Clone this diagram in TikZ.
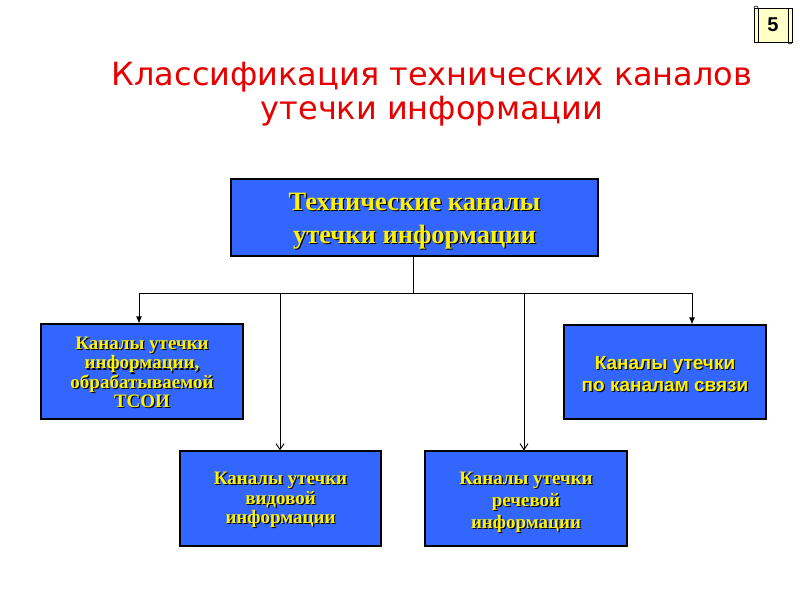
\documentclass[tikz,border=0pt]{standalone}
\usepackage{fontspec}
\setmainfont{Liberation Serif}
\newfontfamily\arialf{Liberation Sans}
\newfontfamily\dejavu{DejaVu Sans}
\usetikzlibrary{arrows.meta}
\definecolor{boxblue}{RGB}{51,102,255}
\definecolor{titlered}{RGB}{230,0,0}
\definecolor{scrollfill}{RGB}{255,255,200}
\newcommand\sh[1]{\leavevmode\rlap{\kern1.2pt\raisebox{-1.2pt}{\color{black}#1}}#1}
\newcommand\lift[1]{\rule{0pt}{#1}}
\tikzset{
  bluebox/.style={draw=black, line width=1.1pt, fill=boxblue, text=yellow, align=center, inner sep=0pt},
  conn/.style={draw=black, line width=0.9pt},
  filledarrow/.style={conn, -{Latex[length=7pt,width=6pt]}},
  openarrow/.style={conn, -{Straight Barb[length=6pt,width=8pt]}},
}
\begin{document}
\begin{tikzpicture}[x=1pt,y=-1pt]
\useasboundingbox (0,0) rectangle (800,600);
\fill[white] (0,0) rectangle (800,600);

% title
\node[text=titlered, align=center, font=\dejavu\fontsize{32}{33.5}\selectfont] (title) at (432,94)
  {Классификация технических каналов\\утечки информации};

% page number scroll
\draw[line width=0.8pt, fill=scrollfill] (754,8) rectangle (792,42);
\draw[line width=0.6pt] (758,8) -- (758,42) (788,8) -- (788,42);
\draw[line width=0.6pt] (754,8) arc (180:0:2pt) (788,42) arc (180:360:2pt);
\node[font=\arialf\bfseries\fontsize{20}{22}\selectfont] (num) at (773,25) {5};

% boxes
\node[bluebox, minimum width=367pt, minimum height=77pt,
      font=\bfseries\fontsize{26.5}{33}\selectfont] (top) at (414.5,217.5)
  {\lift{25.5pt}\sh{Технические каналы}\\\sh{утечки информации}};
\node[bluebox, minimum width=202pt, minimum height=95pt,
      font=\bfseries\fontsize{19}{19.3}\selectfont] (lb) at (142,371.5)
  {\lift{15.5pt}\sh{Каналы утечки}\\\sh{информации,}\\\sh{обрабатываемой}\\\sh{ТСОИ}};
\node[bluebox, minimum width=202pt, minimum height=94pt,
      font=\arialf\bfseries\fontsize{19}{22}\selectfont] (rb) at (665,372)
  {\lift{17.6pt}\sh{Каналы утечки}\\\sh{по каналам связи}};
\node[bluebox, minimum width=201pt, minimum height=95pt,
      font=\bfseries\fontsize{19}{19.5}\selectfont] (bl) at (280.5,498.5)
  {\lift{16.5pt}\sh{Каналы утечки}\\\sh{видовой}\\\sh{информации}};
\node[bluebox, minimum width=202pt, minimum height=95pt,
      font=\bfseries\fontsize{19}{22}\selectfont] (br) at (526,498.5)
  {\lift{21.5pt}\sh{Каналы утечки}\\\sh{речевой}\\\sh{информации}};

% connectors
\coordinate (j0) at (413,293);
\coordinate (jl) at (139,293);
\coordinate (jr) at (692,293);
\coordinate (j2) at (280,293);
\coordinate (j3) at (524,293);
\draw[conn] (top.south -| j0) -- (j0);
\draw[conn] (jl) -- (jr);
\draw[filledarrow] (jl) -- (jl |- lb.north);
\draw[filledarrow] (jr) -- (jr |- rb.north);
\draw[openarrow] (j2) -- (j2 |- bl.north);
\draw[openarrow] (j3) -- (j3 |- br.north);
\end{tikzpicture}
\end{document}
